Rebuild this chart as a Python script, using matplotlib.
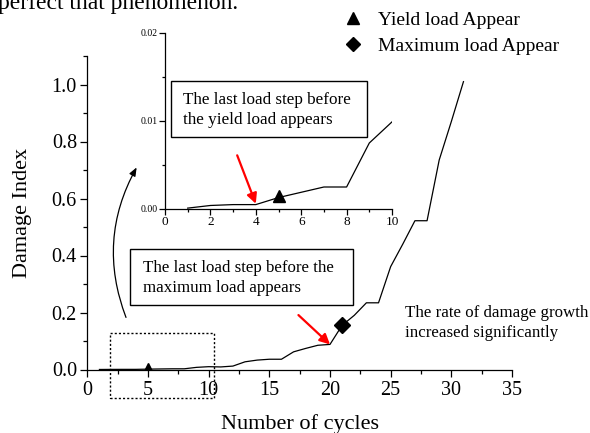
import matplotlib
matplotlib.use("Agg")
import matplotlib.pyplot as plt
from matplotlib.patches import Rectangle, FancyArrowPatch
from matplotlib.lines import Line2D
from matplotlib.ticker import MultipleLocator

plt.rcParams["font.family"] = ["Liberation Serif", "DejaVu Serif"]

# Damage index per loading cycle
cycles = list(range(1, 32))
damage = [0.0001, 0.0004, 0.0005, 0.0005, 0.0013, 0.0019, 0.0025, 0.0025,
          0.0075, 0.0099, 0.009, 0.012, 0.027, 0.033, 0.036, 0.036,
          0.062, 0.074, 0.085, 0.088, 0.155, 0.19, 0.234, 0.234,
          0.361, 0.44, 0.522, 0.522, 0.735, 0.87, 1.01]

# Early cycles shown in the zoomed inset
inset_cycles = cycles[:10]
inset_damage = damage[:10]

yield_cycle = 5
max_cycle = 21

legend_labels = ["Yield load Appear", "Maximum load Appear"]
box_yield_text = "The last load step before\nthe yield load appears"
box_max_text = "The last load step before the\nmaximum load appears"
rate_text = "The rate of damage growth\nincreased significantly"

W, H = 590, 433
fig = plt.figure(figsize=(W / 100, H / 100), dpi=100)


def fx(px):
    return px / W


def fy(py):
    return 1 - py / H


# Main axes
ax = fig.add_axes([fx(87.3), fy(369.5), fx(512) - fx(87.3), fy(56) - fy(369.5)])
ax.plot(cycles, damage, color="black", lw=0.9)
yi = cycles.index(yield_cycle)
mi = cycles.index(max_cycle)
ax.plot(cycles[yi], damage[yi], marker="^", color="black", ms=8, ls="none")
ax.plot(cycles[mi], damage[mi], marker="D", color="black", ms=8, ls="none")
ax.set_xlim(0, 35)
ax.set_ylim(0, 1.1)
ax.xaxis.set_major_locator(MultipleLocator(5))
ax.xaxis.set_minor_locator(MultipleLocator(2.5))
ax.set_yticks([0, 0.2, 0.4, 0.6, 0.8, 1.0])
ax.set_yticklabels(["0.0", "0.2", "0.4", "0.6", "0.8", "1.0"])
ax.yaxis.set_minor_locator(MultipleLocator(0.1))
for s in ("top", "right"):
    ax.spines[s].set_visible(False)
for s in ("left", "bottom"):
    ax.spines[s].set_linewidth(0.9)
ax.tick_params(which="major", direction="out", length=5, width=0.9, labelsize=14.5)
ax.tick_params(axis="y", which="major", pad=2.5)
ax.tick_params(which="minor", direction="out", length=3, width=0.9)
ax.set_xlabel("Number of cycles", fontsize=16, labelpad=10)
ax.set_ylabel("Damage Index", fontsize=16, labelpad=14)

# Red arrow to cycle 20
ax.annotate("", xy=(20, damage[19]), xytext=(17.4, 0.191),
            arrowprops=dict(arrowstyle="-|>,head_length=0.6,head_width=0.3",
                            color="red", lw=1.6, shrinkA=0, shrinkB=0))

# Dotted region marking the zoomed range
ax.add_patch(Rectangle((1.87, -0.1), 10.45 - 1.87, 0.228, fill=False,
                       ls=(0, (1.5, 1.5)), lw=1.0, color="black", clip_on=False))

# Inset axes
axi = fig.add_axes([fx(165), fy(209), fx(392) - fx(165), fy(33) - fy(209)])
axi.set_facecolor("none")
axi.plot(inset_cycles, inset_damage, color="black", lw=0.9)
axi.plot(inset_cycles[yi], inset_damage[yi] + 0.0002, marker="^", color="black",
         ms=9, ls="none")
axi.set_xlim(0, 10)
axi.set_ylim(0, 0.02)
axi.xaxis.set_major_locator(MultipleLocator(2))
axi.xaxis.set_minor_locator(MultipleLocator(1))
axi.set_yticks([0, 0.01, 0.02])
axi.set_yticklabels(["0.00", "0.01", "0.02"])
axi.yaxis.set_minor_locator(MultipleLocator(0.005))
for s in ("top", "right"):
    axi.spines[s].set_visible(False)
for s in ("left", "bottom"):
    axi.spines[s].set_linewidth(0.9)
axi.tick_params(axis="x", which="major", direction="out", length=4, width=0.9,
                labelsize=9.5, pad=1)
axi.tick_params(axis="y", which="major", direction="out", length=4, width=0.9,
                labelsize=7, pad=1)
axi.tick_params(which="minor", direction="out", length=2.5, width=0.9)

axi.annotate("", xy=(4, inset_damage[3] + 0.0001), xytext=(3.18, 0.0061),
             arrowprops=dict(arrowstyle="-|>,head_length=0.6,head_width=0.3",
                             color="red", lw=1.6, shrinkA=0, shrinkB=0))

# Text boxes
fig.add_artist(Rectangle((fx(171), fy(137)), fx(367) - fx(171), fy(81) - fy(137),
                         transform=fig.transFigure, fill=True, fc="white",
                         ec="black", lw=1.0))
fig.text(fx(183), fy(110), box_yield_text, fontsize=12.3, va="center", ha="left",
         linespacing=1.3)

fig.add_artist(Rectangle((fx(130), fy(305)), fx(353) - fx(130), fy(249) - fy(305),
                         transform=fig.transFigure, fill=True, fc="white",
                         ec="black", lw=1.0))
fig.text(fx(143), fy(278), box_max_text, fontsize=12.2, va="center", ha="left",
         linespacing=1.35)

fig.text(fx(405), fy(323), rate_text, fontsize=12.2, va="center", ha="left",
         linespacing=1.3)

# Curved arrow linking the dotted region to the inset
fig.add_artist(FancyArrowPatch((fx(127), fy(320)), (fx(138), fy(165)),
                               transform=fig.transFigure,
                               connectionstyle="arc3,rad=-0.24",
                               arrowstyle="-|>,head_length=5,head_width=2",
                               color="black", lw=0.9))

# Legend for marker symbols
handles = [Line2D([], [], marker="^", color="black", ls="none", ms=9),
           Line2D([], [], marker="D", color="black", ls="none", ms=7)]
fig.legend(handles, legend_labels, loc="upper left",
           bbox_to_anchor=(fx(343), fy(11)), frameon=False, fontsize=14,
           handlelength=1.0, handletextpad=0.8, labelspacing=0.45,
           borderpad=0, borderaxespad=0)

# Tail of the preceding sentence
fig.text(fx(-2), fy(9), "perfect that phenomenon.", fontsize=17, va="baseline",
         ha="left")

fig.savefig("out.png", dpi=100)
